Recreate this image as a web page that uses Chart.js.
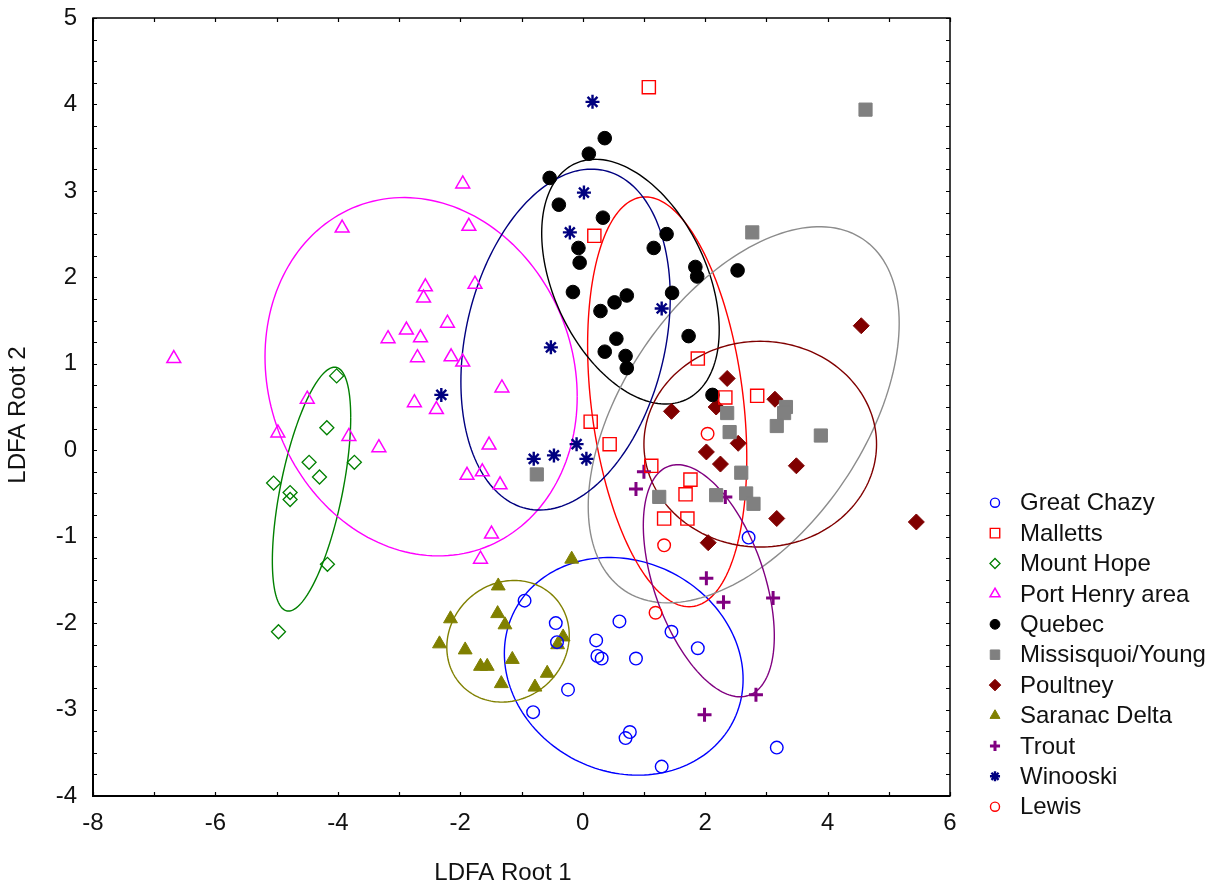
<!DOCTYPE html>
<html>
<head>
<meta charset="utf-8">
<title>LDFA</title>
<script src="https://cdn.jsdelivr.net/npm/chart.js@4.4.1/dist/chart.umd.min.js"></script>
<style>
html, body { margin: 0; padding: 0; background: #fff; }
#wrap { width: 1229px; height: 890px; }
</style>
</head>
<body>
<div id="wrap"><canvas id="grafica" width="1229" height="890"></canvas></div>
<script>
// grupos (orden de la leyenda)
const grupos = ['Great Chazy', 'Malletts', 'Mount Hope', 'Port Henry area', 'Quebec',
    'Missisquoi/Young', 'Poultney', 'Saranac Delta', 'Trout', 'Winooski', 'Lewis'];

const xTicks = [-8, -6, -4, -2, 0, 2, 4, 6];
const yTicks = [-4, -3, -2, -1, 0, 1, 2, 3, 4, 5];

// puntos [root1, root2]
const greatChazy = [[-0.95, -1.74], [-0.44, -2.00], [-0.42, -2.22], [0.60, -1.98], [0.22, -2.20],
    [0.24, -2.38], [0.31, -2.41], [0.87, -2.41], [1.45, -2.10], [1.88, -2.29], [-0.24, -2.77],
    [-0.81, -3.03], [0.77, -3.26], [0.70, -3.33], [1.29, -3.66], [3.17, -3.44], [2.71, -1.01]];
const malletts = [[1.08, 4.20], [0.19, 2.48], [1.88, 1.06], [2.33, 0.61], [2.85, 0.63], [0.13, 0.33],
    [0.44, 0.07], [1.12, -0.18], [1.76, -0.34], [1.68, -0.51], [1.33, -0.79], [1.71, -0.79]];
const mountHope = [[-4.02, 0.86], [-4.18, 0.26], [-3.73, -0.14], [-4.47, -0.14], [-4.30, -0.31],
    [-5.05, -0.38], [-4.78, -0.49], [-4.78, -0.57], [-4.17, -1.32], [-4.97, -2.10]];
const portHenry = [[-1.96, 3.08], [-3.93, 2.57], [-1.86, 2.59], [-2.57, 1.89], [-2.60, 1.76],
    [-1.76, 1.92], [-2.21, 1.47], [-2.88, 1.39], [-3.18, 1.29], [-2.65, 1.30], [-2.70, 1.07],
    [-2.15, 1.08], [-1.96, 1.02], [-1.32, 0.72], [-4.50, 0.59], [-2.75, 0.55], [-2.39, 0.47],
    [-4.98, 0.20], [-3.82, 0.16], [-3.33, 0.03], [-1.53, 0.06], [-1.89, -0.29], [-1.64, -0.25],
    [-1.35, -0.40], [-1.49, -0.97], [-1.67, -1.26], [-6.68, 1.06]];
const quebec = [[0.36, 3.61], [0.10, 3.43], [-0.54, 3.15], [-0.39, 2.84], [0.33, 2.69], [1.37, 2.50],
    [1.16, 2.34], [-0.07, 2.34], [-0.05, 2.17], [1.84, 2.12], [1.87, 2.01], [2.53, 2.08],
    [-0.16, 1.83], [0.72, 1.79], [0.52, 1.71], [0.29, 1.61], [1.46, 1.82], [1.73, 1.32],
    [0.55, 1.29], [0.36, 1.14], [0.70, 1.09], [0.72, 0.95], [2.12, 0.64]];
const missisquoi = [[4.62, 3.94], [2.77, 2.52], [2.36, 0.43], [2.40, 0.21], [3.32, 0.50], [3.29, 0.43],
    [3.17, 0.28], [3.89, 0.17], [2.59, -0.26], [2.67, -0.50], [2.79, -0.62], [2.18, -0.52],
    [1.25, -0.54], [-0.75, -0.28]];
const poultney = [[4.55, 1.44], [2.36, 0.83], [3.14, 0.59], [2.18, 0.50], [1.45, 0.45], [2.54, 0.08],
    [2.02, -0.02], [2.25, -0.16], [3.49, -0.18], [3.17, -0.79], [5.45, -0.83], [2.05, -1.07]];
const saranac = [[-0.18, -1.26], [-1.38, -1.57], [-2.16, -1.95], [-1.39, -1.89], [-1.27, -2.02],
    [-0.32, -2.16], [-0.41, -2.25], [-2.34, -2.24], [-1.92, -2.31], [-1.67, -2.50], [-1.56, -2.50],
    [-1.15, -2.42], [-0.58, -2.58], [-1.33, -2.70], [-0.78, -2.74]];
const trout = [[1.00, -0.25], [0.87, -0.45], [2.33, -0.54], [2.02, -1.48], [2.30, -1.76], [3.11, -1.71],
    [2.83, -2.83], [1.99, -3.06]];
const winooski = [[0.16, 4.03], [0.02, 2.98], [-0.21, 2.52], [1.29, 1.64], [-0.52, 1.19], [-2.31, 0.64],
    [-0.80, -0.10], [-0.47, -0.06], [-0.10, 0.07], [0.06, -0.10]];
const lewis = [[2.04, 0.19], [1.33, -1.10], [1.19, -1.88]];

const puntos = [greatChazy, malletts, mountHope, portHenry, quebec, missisquoi,
    poultney, saranac, trout, winooski, lewis];

// elipses: centro y dos semidiametros conjugados (unidades de los ejes); Lewis no tiene
const elipseCentro = [[0.67, -2.50], [1.38, 0.56], [-4.43, -0.45], [-2.64, 0.85], [0.78, 1.95],
    [2.63, 0.41], [2.90, 0.07], [-1.22, -2.21], [2.06, -1.51], [-0.28, 1.28], null];
const elipseU = [[1.95, -0.15], [1.30, -0.65], [0.64, 0.83], [2.55, -0.23], [1.45, -0.56],
    [2.54, 1.06], [1.90, 0.00], [1.00, 0.07], [1.07, -0.64], [1.71, 0.49], null];
const elipseV = [[0, 1.25], [0, 2.28], [0, 1.14], [0, 2.06], [0, 1.30],
    [0, 1.90], [0, 1.19], [0, 0.70], [0, 1.18], [0, 1.91], null];

// estilos
const estilos = [
    { forma: 'circle', radio: 6.3, borde: '#0000ff', relleno: 'rgba(0,0,0,0)', ancho: 1.4, linea: '#0000ff' },
    { forma: 'rect', radio: 9.3, borde: '#ff0000', relleno: 'rgba(0,0,0,0)', ancho: 1.4, linea: '#ff0000' },
    { forma: 'rectRot', radio: 7, borde: '#008000', relleno: 'rgba(0,0,0,0)', ancho: 1.3, linea: '#008000' },
    { forma: 'triangle', radio: 8, borde: '#ff00ff', relleno: 'rgba(0,0,0,0)', ancho: 1.5, linea: '#ff00ff' },
    { forma: 'circle', radio: 6.8, borde: '#000000', relleno: '#000000', ancho: 1, linea: '#000000' },
    { forma: 'rect', radio: 9.3, borde: '#7f7f7f', relleno: '#808080', ancho: 1, linea: '#8c8c8c' },
    { forma: 'rectRot', radio: 8, borde: '#800000', relleno: '#800000', ancho: 1, linea: '#800000' },
    { forma: 'triangle', radio: 8, borde: '#808000', relleno: '#808000', ancho: 1, linea: '#808000' },
    { forma: 'cross', radio: 7, borde: '#800080', relleno: '#800080', ancho: 3, linea: '#800080' },
    { forma: 'star', radio: 7, borde: '#000080', relleno: '#000080', ancho: 2.4, linea: '#000080' },
    { forma: 'circle', radio: 6.3, borde: '#ff0000', relleno: 'rgba(0,0,0,0)', ancho: 1.4, linea: null }
];

const fuente = '"Liberation Sans", Arial, sans-serif';

const marcoPlugin = {
    id: 'marco',
    beforeDatasetsDraw(chart) {
        const ctx = chart.ctx;
        const xs = chart.scales.x, ys = chart.scales.y;
        ctx.save();
        for (let g = 0; g < grupos.length; g++) {
            if (!elipseCentro[g]) continue;
            let c = elipseCentro[g], u = elipseU[g], v = elipseV[g];
            ctx.beginPath();
            for (let k = 0; k <= 180; k++) {
                let t = k / 180 * 2 * Math.PI;
                let px = xs.getPixelForValue(c[0] + u[0] * Math.cos(t) + v[0] * Math.sin(t));
                let py = ys.getPixelForValue(c[1] + u[1] * Math.cos(t) + v[1] * Math.sin(t));
                if (k == 0) ctx.moveTo(px, py); else ctx.lineTo(px, py);
            }
            ctx.strokeStyle = estilos[g].linea;
            ctx.lineWidth = 1.4;
            ctx.stroke();
        }
        ctx.restore();
    },
    afterDraw(chart) {
        const ctx = chart.ctx;
        const a = chart.chartArea;
        const xs = chart.scales.x, ys = chart.scales.y;
        ctx.save();

        // marco
        ctx.strokeStyle = '#000';
        ctx.lineWidth = 1.5;
        ctx.strokeRect(a.left, a.top, a.right - a.left, a.bottom - a.top);
        ctx.lineWidth = 2;
        ctx.beginPath();
        ctx.moveTo(a.left, a.top); ctx.lineTo(a.left, a.bottom); ctx.lineTo(a.right, a.bottom);
        ctx.stroke();

        // marcas hacia dentro
        ctx.lineWidth = 1.2;
        ctx.beginPath();
        for (let i = -8; i <= 6; i++) {
            let px = Math.round(xs.getPixelForValue(i)) + 0.5;
            ctx.moveTo(px, a.bottom); ctx.lineTo(px, a.bottom - 4);
            ctx.moveTo(px, a.top); ctx.lineTo(px, a.top + 4);
        }
        for (let j = -16; j <= 20; j++) {
            let py = Math.round(ys.getPixelForValue(j / 4)) + 0.5;
            ctx.moveTo(a.left, py); ctx.lineTo(a.left + 4, py);
            ctx.moveTo(a.right, py); ctx.lineTo(a.right - 4, py);
        }
        ctx.stroke();

        // titulos de ejes
        ctx.fillStyle = '#111';
        ctx.font = '24px ' + fuente;
        ctx.textAlign = 'center';
        ctx.textBaseline = 'middle';
        ctx.fillText('LDFA Root 1', 503, 873);
        ctx.translate(18, 415);
        ctx.rotate(-Math.PI / 2);
        ctx.fillText('LDFA Root 2', 0, 0);
        ctx.restore();

        // leyenda
        ctx.save();
        ctx.font = '24px ' + fuente;
        ctx.textAlign = 'left';
        ctx.textBaseline = 'middle';
        for (let g = 0; g < grupos.length; g++) {
            let y = 502.7 + g * 30.4;
            let e = estilos[g];
            ctx.fillStyle = e.relleno;
            ctx.strokeStyle = e.borde;
            ctx.lineWidth = e.ancho;
            Chart.helpers.drawPoint(ctx, { pointStyle: e.forma, radius: e.radio * 0.72, rotation: 0, borderWidth: e.ancho }, 995, y);
            ctx.fillStyle = '#111';
            ctx.fillText(grupos[g], 1020, y + 1);
        }
        ctx.restore();
    }
};

document.addEventListener('DOMContentLoaded', function() {

    let datasets = [];
    for (let g = 0; g < grupos.length; g++) {
        let e = estilos[g];
        datasets.push({
            label: grupos[g],
            data: puntos[g].map(p => ({ x: p[0], y: p[1] })),
            pointStyle: e.forma,
            pointRadius: e.radio,
            pointHoverRadius: e.radio,
            borderColor: e.borde,
            backgroundColor: e.relleno,
            borderWidth: e.ancho,
            showLine: false
        });
    }

    Chart.defaults.font.family = fuente;
    Chart.defaults.font.size = 24;
    Chart.defaults.color = '#111';

    var ctx = document.getElementById('grafica').getContext('2d');
    var graph = new Chart(ctx, {
        type: 'scatter',
        data: { datasets: datasets },
        options: {
            responsive: false,
            animation: false,
            devicePixelRatio: 1,
            layout: { padding: { left: 0, right: 279, top: 18, bottom: 0 } },
            plugins: {
                legend: { display: false },
                tooltip: { enabled: false }
            },
            scales: {
                x: {
                    type: 'linear',
                    min: -8,
                    max: 6,
                    afterBuildTicks: function(scale) { scale.ticks = xTicks.map(v => ({ value: v })); },
                    afterFit: function(scale) {
                        scale.height = 94;
                        scale.paddingLeft = 0;
                        scale.paddingRight = 0;
                    },
                    grid: { display: false, drawTicks: false },
                    border: { display: false },
                    ticks: { padding: 13, maxRotation: 0, font: { size: 24 } }
                },
                y: {
                    type: 'linear',
                    min: -4,
                    max: 5,
                    afterBuildTicks: function(scale) { scale.ticks = yTicks.map(v => ({ value: v })); },
                    afterFit: function(scale) {
                        scale.width = 93;
                        scale.paddingTop = 0;
                        scale.paddingBottom = 0;
                    },
                    grid: { display: false, drawTicks: false },
                    border: { display: false },
                    ticks: { padding: 16, font: { size: 24 } }
                }
            }
        },
        plugins: [marcoPlugin]
    });

})
</script>
</body>
</html>
